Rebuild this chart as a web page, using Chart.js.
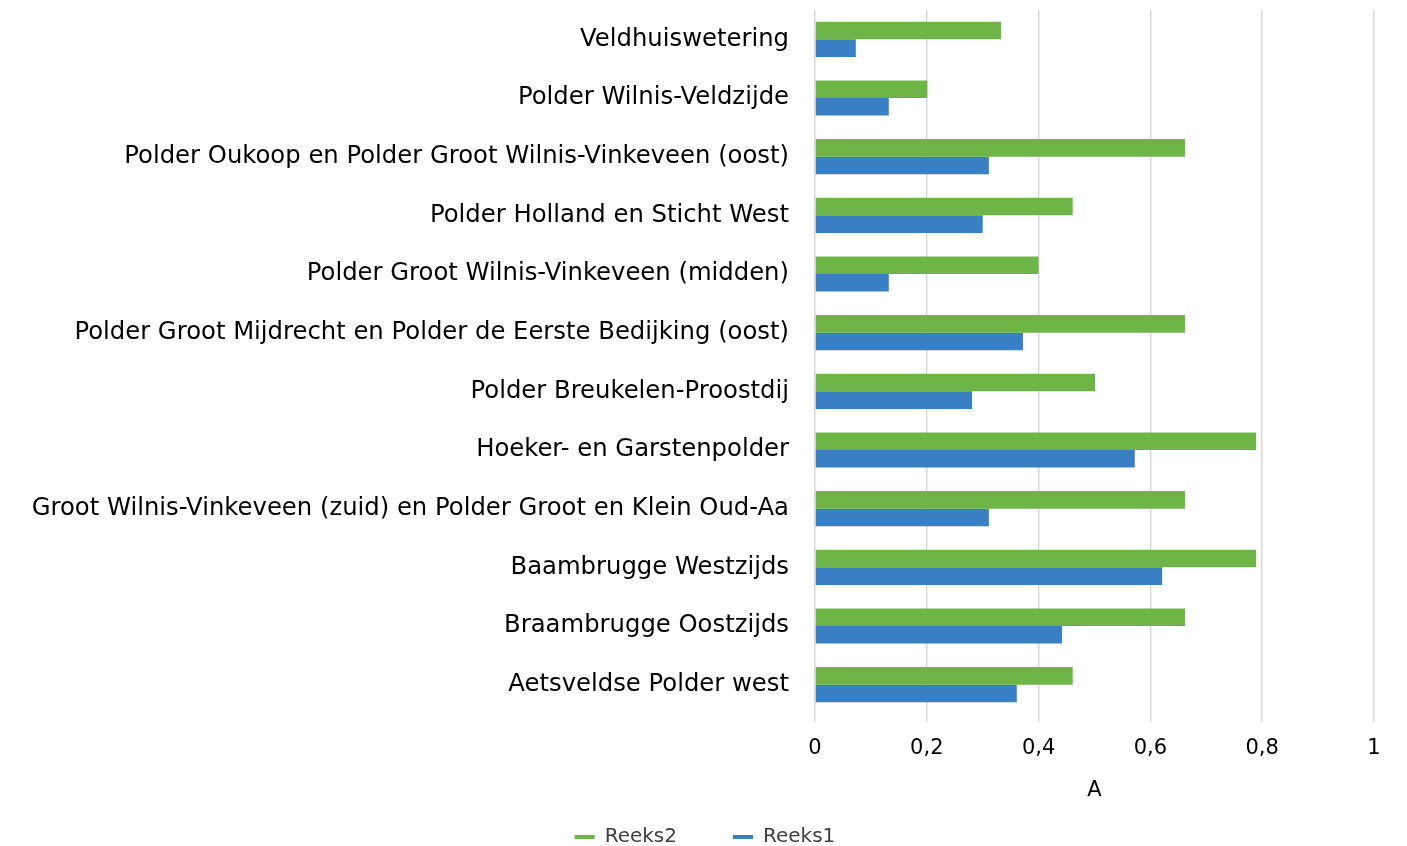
<!DOCTYPE html>
<html>
<head>
<meta charset="utf-8">
<script src="https://cdn.jsdelivr.net/npm/chart.js@4.4.0/dist/chart.umd.min.js"></script>
<style>
html,body{margin:0;padding:0;background:#fff;}
#wrap{width:1407px;height:846px;}
</style>
</head>
<body>
<div id="wrap"><canvas id="c" width="1407" height="846"></canvas></div>
<script>
const categories = [
  "Veldhuiswetering",
  "Polder Wilnis-Veldzijde",
  "Polder Oukoop en Polder Groot Wilnis-Vinkeveen (oost)",
  "Polder Holland en Sticht West",
  "Polder Groot Wilnis-Vinkeveen (midden)",
  "Polder Groot Mijdrecht en Polder de Eerste Bedijking (oost)",
  "Polder Breukelen-Proostdij",
  "Hoeker- en Garstenpolder",
  "Groot Wilnis-Vinkeveen (zuid) en Polder Groot en Klein Oud-Aa",
  "Baambrugge Westzijds",
  "Braambrugge Oostzijds",
  "Aetsveldse Polder west"
];
const reeks2 = [0.333, 0.201, 0.662, 0.461, 0.400, 0.662, 0.501, 0.789, 0.662, 0.789, 0.662, 0.461];
const reeks1 = [0.073, 0.132, 0.311, 0.300, 0.132, 0.372, 0.281, 0.572, 0.311, 0.621, 0.442, 0.361];
const xTicks = [0, 0.2, 0.4, 0.6, 0.8, 1];
const xTitle = "A";

const FONT = "'DejaVu Sans', Verdana, sans-serif";

const legendTweakPlugin = {
  id: 'legendTweak',
  afterInit(chart) {
    const lg = chart.legend;
    if (!lg) return;
    const orig = lg.fit.bind(lg);
    lg.fit = function () { orig(); this.height = 75; };
  },
  afterLayout(chart) {
    const lg = chart.legend;
    if (!lg) return;
    lg.left += 18;
    lg.right += 18;
  }
};

new Chart(document.getElementById('c'), {
  type: 'bar',
  data: {
    labels: categories,
    datasets: [
      { label: 'Reeks2', data: reeks2, backgroundColor: '#6db547', borderWidth: 0,
        categoryPercentage: 0.6, barPercentage: 1.0 },
      { label: 'Reeks1', data: reeks1, backgroundColor: '#387fc4', borderWidth: 0,
        categoryPercentage: 0.6, barPercentage: 1.0 }
    ]
  },
  plugins: [legendTweakPlugin],
  options: {
    indexAxis: 'y',
    responsive: false,
    animation: false,
    layout: { padding: { top: 10, right: 33, left: 0, bottom: 0 } },
    scales: {
      x: {
        min: 0, max: 1,
        afterBuildTicks: (axis) => { axis.ticks = xTicks.map(v => ({ value: v })); },
        afterFit: (axis) => { axis.height = 57; },
        ticks: {
          color: '#000',
          font: { family: FONT, size: 21 },
          padding: 14,
          callback: (v) => String(v).replace('.', ',')
        },
        grid: { color: '#d9d9d9', lineWidth: 1.5, drawTicks: true, tickLength: 8 },
        border: { display: false },
        title: { display: true, text: xTitle, color: '#000', font: { family: FONT, size: 21 },
                 padding: { top: 0, bottom: -32 } }
      },
      y: {
        afterFit: (axis) => { axis.width = 815; axis.paddingTop = 0; axis.paddingBottom = 0; },
        ticks: {
          color: '#000',
          font: { family: FONT, size: 24.3 },
          padding: 26
        },
        grid: { display: false, drawTicks: false },
        border: { display: false }
      }
    },
    plugins: {
      legend: {
        position: 'bottom',
        labels: {
          color: '#404040',
          font: { family: FONT, size: 20 },
          boxWidth: 20,
          boxHeight: 4,
          padding: 56
        }
      },
      tooltip: { enabled: false }
    }
  }
});
</script>
</body>
</html>
